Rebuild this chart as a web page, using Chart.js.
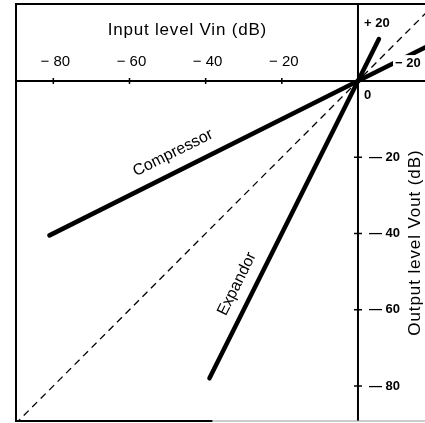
<!DOCTYPE html>
<html>
<head>
<meta charset="utf-8">
<script src="https://cdn.jsdelivr.net/npm/chart.js@4.4.1/dist/chart.umd.min.js"></script>
<style>
  html, body { margin: 0; padding: 0; background: #fff; }
  #wrap { width: 425px; height: 423px; position: relative; }
</style>
</head>
<body>
<div id="wrap"><canvas id="c"></canvas></div>
<script>
// valores (dB)
var inputTicks = [-80, -60, -40, -20];
var outputTicks = [-20, -40, -60, -80];
var compressor = [{ x: -81, y: -40.5 }, { x: 0, y: 0 }, { x: 17.6, y: 8.8 }];
var expandor = [{ x: -39, y: -78 }, { x: 0, y: 0 }, { x: 5.5, y: 11 }];
var unity = [{ x: -90, y: -90 }, { x: 18, y: 18 }];

var FONT = "'Liberation Sans', Arial, sans-serif";

var moldura = {
  id: "moldura",
  afterDatasetsDraw: function (c) {
    var xs = c.scales.x, ys = c.scales.y, ctx = c.ctx, a = c.chartArea;
    var x0 = xs.getPixelForValue(0), y0 = ys.getPixelForValue(0);
    ctx.save();
    ctx.strokeStyle = "#000"; ctx.fillStyle = "#000"; ctx.lineWidth = 2;
    // borda e eixos
    ctx.beginPath();
    ctx.moveTo(a.right, a.top); ctx.lineTo(a.left, a.top); ctx.lineTo(a.left, a.bottom); ctx.lineTo(a.right * 0.5, a.bottom);
    ctx.moveTo(a.left, y0); ctx.lineTo(a.right, y0);
    ctx.moveTo(x0, a.top); ctx.lineTo(x0, a.bottom);
    ctx.stroke();
    ctx.lineWidth = 1; ctx.strokeStyle = "#999";
    ctx.beginPath(); ctx.moveTo(a.right * 0.5, a.bottom); ctx.lineTo(a.right, a.bottom); ctx.stroke();
    ctx.strokeStyle = "#000"; ctx.lineWidth = 1.5;
    // marcas
    ctx.beginPath();
    inputTicks.forEach(function (v) {
      var px = xs.getPixelForValue(v);
      ctx.moveTo(px, y0 - 3); ctx.lineTo(px, y0 + 3);
    });
    outputTicks.forEach(function (v) {
      var py = ys.getPixelForValue(v);
      ctx.moveTo(x0 - 4, py); ctx.lineTo(x0 + 4, py);
    });
    ctx.stroke();

    // rótulos do eixo de entrada
    ctx.font = "15px " + FONT; ctx.textAlign = "center"; ctx.textBaseline = "middle";
    inputTicks.forEach(function (v) {
      ctx.fillText("\u2212 " + Math.abs(v), xs.getPixelForValue(v) + 2, y0 - 19);
    });
    ctx.save();
    ctx.font = "17px " + FONT; ctx.letterSpacing = "0.8px";
    ctx.fillText("Input level Vin (dB)", xs.getPixelForValue(-44.8), y0 - 51);
    ctx.restore();

    // rótulos do eixo de saída
    ctx.font = "bold 13px " + FONT; ctx.textAlign = "left";
    outputTicks.forEach(function (v) {
      ctx.fillText("\u2014 " + Math.abs(v), x0 + 11, ys.getPixelForValue(v));
    });
    ctx.fillText("0", x0 + 6, y0 + 14);
    ctx.fillText("+ 20", x0 + 6, ys.getPixelForValue(15.2));
    // "−20" sobre a linha do compressor, com fundo branco
    var lx = x0 + 37, ly = ys.getPixelForValue(4.7);
    ctx.fillStyle = "#fff"; ctx.fillRect(lx - 2, ly - 8, 32, 16);
    ctx.fillStyle = "#000";
    ctx.fillText("\u2212 20", lx, ly);

    ctx.textAlign = "center";
    ctx.save();
    ctx.font = "17px " + FONT; ctx.letterSpacing = "0.9px";
    ctx.translate(x0 + 57, ys.getPixelForValue(-42.4));
    ctx.rotate(-Math.PI / 2);
    ctx.fillText("Output level Vout (dB)", 0, 0);
    ctx.restore();

    // nomes das curvas, ao longo das retas
    ctx.font = "16px " + FONT;
    ctx.save();
    ctx.translate(173, 153);
    ctx.rotate(Math.atan2(ys.getPixelForValue(0) - ys.getPixelForValue(-40), xs.getPixelForValue(0) - xs.getPixelForValue(-80)));
    ctx.fillText("Compressor", 0, 0);
    ctx.restore();
    ctx.save();
    ctx.translate(237, 284);
    ctx.rotate(Math.atan2(ys.getPixelForValue(0) - ys.getPixelForValue(-80), xs.getPixelForValue(0) - xs.getPixelForValue(-40)));
    ctx.fillText("Expandor", 0, 0);
    ctx.restore();
    ctx.restore();
  }
};

new Chart(document.getElementById("c"), {
  type: "scatter",
  data: {
    datasets: [
      { data: unity, borderColor: "#000", borderWidth: 1.3, borderDash: [7, 5], showLine: true, pointRadius: 0 },
      { data: compressor, borderColor: "#000", borderWidth: 4.5, borderCapStyle: "round", showLine: true, pointRadius: 0 },
      { data: expandor, borderColor: "#000", borderWidth: 4.5, borderCapStyle: "round", showLine: true, pointRadius: 0 }
    ]
  },
  plugins: [moldura],
  options: {
    responsive: true, maintainAspectRatio: false, animation: false,
    layout: { padding: { left: 16, top: 4, right: 0, bottom: 2 } },
    scales: {
      x: { type: "linear", display: false, min: -89.8, max: 17.6 },
      y: { type: "linear", display: false, min: -89.2, max: 20.2 }
    },
    plugins: { legend: { display: false }, tooltip: { enabled: false } }
  }
});
</script>
</body>
</html>
